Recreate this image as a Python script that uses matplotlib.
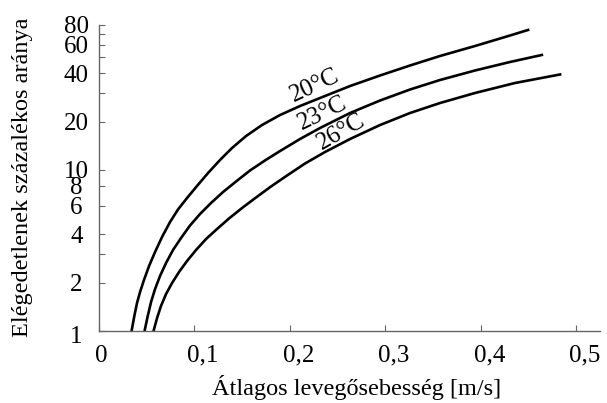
import matplotlib
matplotlib.use("Agg")
import matplotlib.pyplot as plt
import matplotlib.ticker as mticker
import matplotlib.transforms as mtransforms

plt.rcParams["font.family"] = ["Liberation Serif", "DejaVu Serif"]

# Görbék leolvasott pontjai (légsebesség m/s, elégedetlenek %)
x_20 = [0.0346, 0.0377, 0.0403, 0.0435, 0.0476, 0.0529, 0.0592, 0.0665, 0.0749,
        0.0832, 0.0927, 0.1031, 0.1147, 0.1272, 0.1398, 0.1545, 0.1712, 0.1901,
        0.2110, 0.2319, 0.2634, 0.2948, 0.3262, 0.3576, 0.3942, 0.4257, 0.4497]
y_20 = [1.0, 1.257, 1.492, 1.747, 2.074, 2.533, 3.095, 3.836, 4.753,
        5.684, 6.701, 7.955, 9.581, 11.54, 13.70, 16.26, 19.03, 21.96,
        24.97, 28.00, 33.24, 38.64, 44.58, 51.07, 58.91, 67.01, 74.07]

x_23 = [0.0482, 0.0513, 0.0550, 0.0592, 0.0644, 0.0707, 0.0780, 0.0864, 0.0958,
        0.1063, 0.1178, 0.1304, 0.1440, 0.1586, 0.1743, 0.1901, 0.2110, 0.2319,
        0.2634, 0.2948, 0.3262, 0.3576, 0.3942, 0.4309, 0.4641]
y_23 = [1.0, 1.222, 1.514, 1.823, 2.196, 2.645, 3.185, 3.781, 4.521,
        5.330, 6.237, 7.301, 8.485, 9.929, 11.46, 13.12, 15.58, 18.23,
        22.60, 27.02, 31.62, 36.23, 41.50, 46.87, 51.80]

x_26 = [0.0576, 0.0613, 0.0654, 0.0707, 0.0770, 0.0843, 0.0927, 0.1021, 0.1126,
        0.1241, 0.1366, 0.1503, 0.1649, 0.1806, 0.1974, 0.2162, 0.2372, 0.2634,
        0.2948, 0.3262, 0.3576, 0.3942, 0.4361, 0.4832]
y_26 = [1.0, 1.204, 1.430, 1.697, 1.987, 2.325, 2.722, 3.185, 3.728,
        4.301, 4.998, 5.807, 6.750, 7.899, 9.245, 10.97, 12.94, 15.58,
        19.03, 22.60, 26.07, 30.08, 34.71, 39.20]

curve_labels = ["20°C", "23°C", "26°C"]
label_x = [0.2267, 0.2340, 0.2539]
label_y = [33.5, 22.4, 17.2]
label_rot = [25, 26, 30]

x_ticks = [0, 0.1, 0.2, 0.3, 0.4, 0.5]
x_tick_labels = ["0", "0,1", "0,2", "0,3", "0,4", "0,5"]
y_ticks = [1, 2, 3, 4, 6, 8, 10, 20, 30, 40, 50, 60, 70, 80]
y_tick_labels = ["1", "2", "", "4", "6", "8", "10", "20", "", "40", "", "60", "", "80"]

fig = plt.figure(figsize=(6.07, 4.03), dpi=100)
ax = fig.add_axes([0.1623, 0.1787, 0.8262, 0.7603])

for xs, ys in [(x_20, y_20), (x_23, y_23), (x_26, y_26)]:
    ax.plot(xs, ys, color="black", lw=1.9, solid_joinstyle="round")

for txt, lx, ly, rot in zip(curve_labels, label_x, label_y, label_rot):
    ax.text(lx, ly, txt, fontsize=18, rotation=rot, ha="center", va="center",
            rotation_mode="anchor")

ax.set_yscale("log")
ax.set_xlim(0, 0.525)
ax.set_ylim(1, 80)

ax.set_xticks(x_ticks)
ax.set_xticklabels(x_tick_labels)
ax.set_yticks(y_ticks)
ax.set_yticklabels(y_tick_labels)
ax.yaxis.set_minor_locator(mticker.NullLocator())

ax.tick_params(direction="in", length=4, width=0.8, color="#666666",
               labelsize=18)
ax.tick_params(axis="x", pad=10)
ax.tick_params(axis="y", pad=16)
for lab in ax.get_yticklabels():
    lab.set_horizontalalignment("center")
    if lab.get_text() == "1":
        # az "1" felirat kicsit lejjebb ül
        lab.set_transform(lab.get_transform() +
                          mtransforms.ScaledTranslation(0, -0.04, fig.dpi_scale_trans))

# a vízszintes tengely feliratai kissé jobbra tolva
for lab in ax.get_xticklabels():
    dx = 3 if lab.get_text() == "0" else 9
    lab.set_transform(lab.get_transform() +
                      mtransforms.ScaledTranslation(dx / 100, 0, fig.dpi_scale_trans))

for side in ["top", "right"]:
    ax.spines[side].set_visible(False)
for side in ["left", "bottom"]:
    ax.spines[side].set_color("#666666")
    ax.spines[side].set_linewidth(1.0)

ax.set_xlabel("Átlagos levegősebesség [m/s]", fontsize=17.5)
ax.set_ylabel("Elégedetlenek százalékos aránya", fontsize=17.5)
ax.xaxis.set_label_coords(0.515, -0.143)
ax.yaxis.set_label_coords(-0.131, 0.503)

fig.savefig("out.png", dpi=100, facecolor="white")
